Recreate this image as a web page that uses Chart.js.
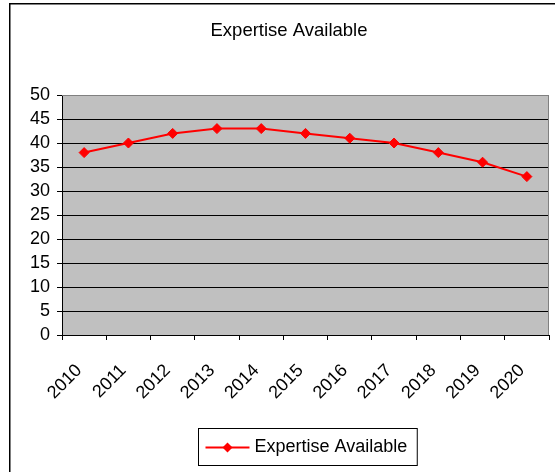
<!DOCTYPE html>
<html>
<head>
<meta charset="utf-8">
<title>Expertise Available</title>
<script src="https://cdn.jsdelivr.net/npm/chart.js@4.4.0/dist/chart.umd.min.js"></script>
<style>
  body { margin: 0; background: #fff; }
  canvas { display: block; }
</style>
</head>
<body>
<canvas id="myChart" width="555" height="472"></canvas>
<script>
'use strict';

// Years along the bottom
const years = ['2010', '2011', '2012', '2013', '2014', '2015', '2016', '2017', '2018', '2019', '2020'];
// Expertise available each year
const expertise = [38, 40, 42, 43, 43, 42, 41, 40, 38, 36, 33];

const seriesName = 'Expertise Available';
const chartTitle = 'Expertise Available';

// Value axis range
const yMin = 0;
const yMax = 50;
const yStep = 5;

const fontFamily = '"Liberation Sans", Arial, sans-serif';

// Old spreadsheet look: gray plot area, frame, title and boxed legend
const sheetLook = {
  id: 'sheetLook',
  beforeDraw(chart) {
    const ctx = chart.ctx;
    const a = chart.chartArea;
    ctx.save();
    ctx.fillStyle = '#fff';
    ctx.fillRect(0, 0, chart.width, chart.height);
    // outer frame (left and top edges)
    ctx.strokeStyle = '#000';
    ctx.lineWidth = 1.5;
    ctx.beginPath();
    ctx.moveTo(9.75, chart.height);
    ctx.lineTo(9.75, 3.75);
    ctx.lineTo(chart.width, 3.75);
    ctx.stroke();
    // plot area fill
    ctx.fillStyle = '#c0c0c0';
    ctx.fillRect(a.left, a.top, a.right - a.left, a.bottom - a.top);
    ctx.restore();
  },
  beforeDatasetsDraw(chart) {
    const ctx = chart.ctx;
    const a = chart.chartArea;
    ctx.save();
    ctx.strokeStyle = '#808080';
    ctx.lineWidth = 1;
    ctx.beginPath();
    ctx.moveTo(a.left, a.top + 0.5);
    ctx.lineTo(a.right - 0.5, a.top + 0.5);
    ctx.lineTo(a.right - 0.5, a.bottom);
    ctx.stroke();
    ctx.restore();
  },
  afterDraw(chart) {
    const ctx = chart.ctx;
    const a = chart.chartArea;
    const ds = chart.data.datasets[0];
    ctx.save();
    ctx.fillStyle = '#000';

    // title
    ctx.font = '18.5px ' + fontFamily;
    ctx.textAlign = 'center';
    ctx.textBaseline = 'alphabetic';
    ctx.fillText(chartTitle, 289, 36);

    // legend box
    ctx.font = '18px ' + fontFamily;
    const tw = ctx.measureText(ds.label).width;
    const w = 7 + 44 + 5 + tw + 10;
    const h = 37;
    const cx = (a.left + a.right) / 2 + 2;
    const x0 = Math.round(cx - w / 2) + 0.5;
    const y0 = chart.height - 44 + 0.5;
    ctx.strokeStyle = '#000';
    ctx.lineWidth = 1;
    ctx.strokeRect(x0, y0, w, h);

    const ly = y0 + 19;
    ctx.strokeStyle = ds.borderColor;
    ctx.lineWidth = ds.borderWidth;
    ctx.beginPath();
    ctx.moveTo(x0 + 7, ly);
    ctx.lineTo(x0 + 51, ly);
    ctx.stroke();

    const mx = x0 + 29;
    const r = ds.pointRadius;
    ctx.fillStyle = ds.backgroundColor;
    ctx.beginPath();
    ctx.moveTo(mx, ly - r);
    ctx.lineTo(mx + r, ly);
    ctx.lineTo(mx, ly + r);
    ctx.lineTo(mx - r, ly);
    ctx.closePath();
    ctx.fill();

    ctx.fillStyle = '#000';
    ctx.textAlign = 'left';
    ctx.textBaseline = 'middle';
    ctx.fillText(ds.label, x0 + 56, ly);
    ctx.restore();
  }
};

new Chart(document.getElementById('myChart'), {
  type: 'line',
  data: {
    labels: years,
    datasets: [{
      label: seriesName,
      data: expertise,
      borderColor: '#ff0000',
      backgroundColor: '#ff0000',
      borderWidth: 2,
      pointStyle: 'rectRot',
      pointRadius: 5,
      pointBorderWidth: 1,
      pointBorderColor: '#ff0000',
      pointBackgroundColor: '#ff0000',
      tension: 0
    }]
  },
  options: {
    responsive: false,
    animation: false,
    layout: {
      padding: { top: 95, left: 10, right: 5, bottom: 47 }
    },
    plugins: {
      legend: { display: false },
      title: { display: false },
      tooltip: { enabled: false }
    },
    scales: {
      x: {
        offset: true,
        grid: {
          offset: true,
          drawOnChartArea: false,
          tickLength: 5,
          color: '#000'
        },
        border: { color: '#000' },
        ticks: {
          color: '#000',
          font: { family: fontFamily, size: 18 },
          minRotation: 45,
          maxRotation: 45,
          autoSkip: false,
          padding: 20,
          labelOffset: -5
        },
        afterFit(scale) {
          scale.height = 90;
          // rotated labels should not squeeze the plot from the sides
          scale.paddingLeft = 0;
          scale.paddingRight = 0;
        }
      },
      y: {
        min: yMin,
        max: yMax,
        ticks: {
          stepSize: yStep,
          autoSkip: false,
          maxTicksLimit: 20,
          color: '#000',
          font: { family: fontFamily, size: 18 },
          padding: 7
        },
        grid: {
          color: (c) => (c.tick && c.tick.value === yMax ? '#808080' : '#000'),
          tickColor: '#000',
          tickLength: 5
        },
        border: { color: '#000' },
        afterFit(scale) {
          scale.width = 52;
        }
      }
    }
  },
  plugins: [sheetLook]
});
</script>
</body>
</html>
